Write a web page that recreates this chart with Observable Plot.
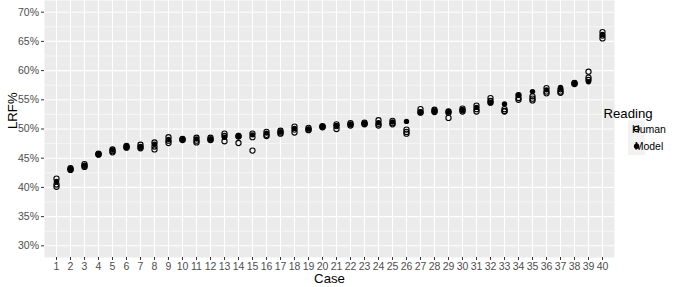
<!DOCTYPE html>
<html><head><meta charset="utf-8">
<script src="https://cdn.jsdelivr.net/npm/d3@7"></script>
<script src="https://cdn.jsdelivr.net/npm/@observablehq/plot@0.6"></script>
<style>html,body{margin:0;padding:0;background:#fff;overflow:hidden}#chart svg{display:block}</style>
</head><body><div id="chart"></div>
<script>
const cases = d3.range(1, 41);
const human1 = [41.5,43.3,44.0,45.8,46.5,47.1,47.3,47.7,48.6,48.3,48.5,48.5,49.2,48.8,49.2,49.5,49.7,50.4,50.2,50.5,50.8,51.0,51.1,51.5,51.4,49.9,53.4,53.3,53.0,53.5,54.0,55.3,53.4,55.8,55.6,57.0,56.8,57.9,59.8,66.6];
const human2 = [40.5,43.0,43.5,45.6,46.0,46.9,46.7,47.0,48.0,48.2,48.0,48.2,48.8,48.7,48.6,49.0,49.4,49.9,49.9,50.4,50.5,50.8,50.9,50.6,50.8,49.5,52.9,52.9,52.8,53.2,53.4,54.8,53.1,55.3,55.2,56.4,56.4,57.7,58.8,66.0];
const human3 = [40.1,43.1,43.7,45.7,46.2,46.8,46.9,46.5,47.6,48.1,47.7,48.1,47.9,47.6,46.3,48.8,49.2,49.4,49.8,50.3,50.0,50.6,50.8,50.9,51.0,49.2,52.8,53.1,51.9,53.0,53.0,54.5,53.0,55.0,54.9,56.1,56.2,57.8,58.4,65.5];
const model  = [41.0,43.2,43.8,45.7,46.4,47.0,47.0,47.4,48.2,48.2,48.3,48.3,48.6,48.9,49.0,49.3,49.5,50.1,50.0,50.4,50.6,50.8,51.0,51.1,51.2,51.3,52.9,53.0,53.0,53.3,53.7,54.5,54.3,55.8,56.4,56.7,57.1,57.8,58.1,66.2];
const yTicks = [30, 35, 40, 45, 50, 55, 60, 65, 70];
const yMinor = [32.5, 37.5, 42.5, 47.5, 52.5, 57.5, 62.5, 67.5];
const readings = ["Human", "Model"];

const humanData = [];
cases.forEach((c, i) => {
  [human1, human2, human3].forEach(h => humanData.push({case: c, value: h[i], reading: readings[0]}));
});
const modelData = cases.map((c, i) => ({case: c, value: model[i], reading: readings[1]}));

const font = "'Liberation Sans', Arial, Helvetica, sans-serif";
const tickFont = 10.5, titleFont = 13.2;
const plot = Plot.plot({
  width: 685, height: 287,
  marginLeft: 44, marginRight: 71, marginTop: 0, marginBottom: 30,
  style: {fontFamily: font, background: "white", overflow: "visible"},
  x: {type: "point", domain: cases, padding: 0.6, label: null},
  y: {domain: [28, 72], label: null},
  marks: [
    Plot.frame({fill: "#EBEBEB", stroke: null}),
    Plot.ruleY(yMinor, {stroke: "white", strokeWidth: 0.55}),
    Plot.ruleY(yTicks, {stroke: "white", strokeWidth: 1.1}),
    Plot.ruleX(cases, {stroke: "white", strokeWidth: 1.1}),
    Plot.axisY(yTicks, {tickFormat: d => d + "%", tickSize: 3, tickPadding: 2.5, stroke: "#333333", fill: "#4D4D4D", fontSize: tickFont, label: null}),
    Plot.axisX(cases, {tickSize: 3, tickPadding: 2, stroke: "#333333", fill: "#4D4D4D", fontSize: tickFont, label: null}),
    Plot.dot(humanData, {x: "case", y: "value", r: 2.6, stroke: "black", strokeWidth: 1.1, fill: "none"}),
    Plot.dot(modelData, {x: "case", y: "value", r: 2.7, fill: "black", stroke: null}),
    Plot.text(["LRF%"], {frameAnchor: "left", dx: -32, rotate: -90, fontSize: titleFont, fill: "black"}),
    Plot.text(["Case"], {frameAnchor: "bottom", dy: 25.5, fontSize: titleFont, fill: "black"})
  ]
});
document.getElementById("chart").appendChild(plot);

// legend
const svg = d3.select(plot);
const lg = svg.append("g").attr("font-family", font);
lg.append("text").attr("x", 628).attr("y", 113).attr("dy", "0.35em").attr("font-size", titleFont).attr("fill", "black").text("Reading");
readings.forEach((r, i) => {
  const cy = 129 + i * 17.3;
  lg.append("rect").attr("x", 628).attr("y", cy - 8.64).attr("width", 17.28).attr("height", 17.28).attr("fill", "#F2F2F2");
  const c = lg.append("circle").attr("cx", 636.6).attr("cy", cy).attr("r", i === 0 ? 2.6 : 2.7);
  if (i === 0) c.attr("fill", "none").attr("stroke", "black").attr("stroke-width", 1.1);
  else c.attr("fill", "black");
  lg.append("text").attr("x", 649).attr("y", cy).attr("dy", "0.35em").attr("font-size", tickFont).attr("fill", "black").text(r);
});
</script>
</body></html>
